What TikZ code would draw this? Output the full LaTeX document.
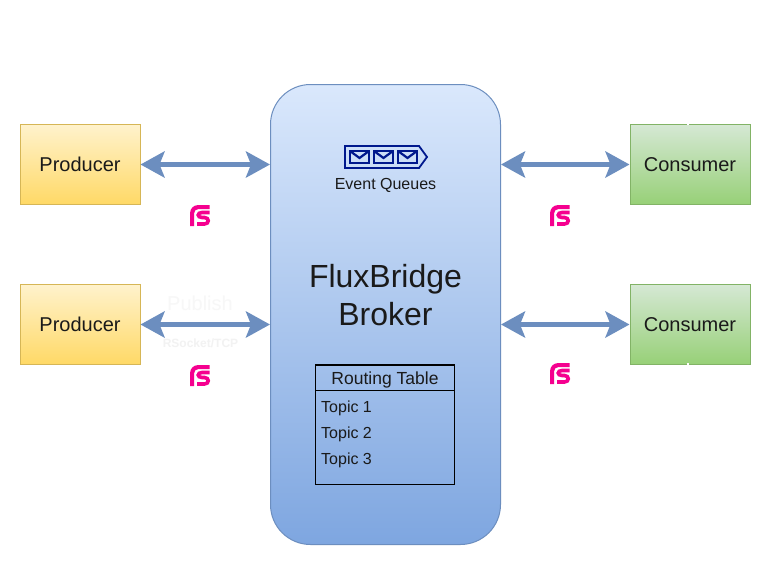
\documentclass[tikz,border=0pt]{standalone}
\usepackage{fontspec}
\setmainfont{Liberation Sans}
\usetikzlibrary{arrows.meta}
\definecolor{arrowblue}{HTML}{6C8EBF}
\definecolor{iconblue}{HTML}{00188D}
\definecolor{rspink}{HTML}{F5008F}
\definecolor{inkdark}{HTML}{1A1A1A}
\newcommand{\fsz}[1]{\fontsize{#1}{#1}\selectfont}
\tikzset{
  x=1pt,y=-1pt,
  box/.style={draw,line width=1pt,minimum width=120pt,minimum height=80pt,inner sep=0pt,text=inkdark,font=\fsz{20}},
  prod/.style={box,draw=prodedge,top color=prodtop,bottom color=prodbot},
  cons/.style={box,draw=consedge,top color=constop,bottom color=consbot},
  link/.style={draw=arrowblue,line width=5.5pt,{Stealth[length=24pt,width=26pt,inset=5pt]}-{Stealth[length=24pt,width=26pt,inset=5pt]}},
  lbl/.style={inner sep=0pt,text=inkdark},
  rsmark/.pic={
    \fill[rspink] (-9.5,10.5) -- (-9.5,-2) .. controls (-9.5,-7) and (-6,-10.5) .. (-1,-10.5) -- (10,-10.5) -- (10,-6.5) -- (-1,-6.5) .. controls (-3.5,-6.5) and (-5.5,-4.5) .. (-5.5,-2) -- (-5.5,10.5) -- cycle;
    \draw[rspink,line width=3.6pt] (10,-3) -- (2.5,-3) .. controls (-2.5,-3) and (-2.5,2) .. (2.5,2) -- (5,2) .. controls (10,2) and (10,8.5) .. (5,8.5) -- (-2.5,8.5);
  },
  envelope/.pic={
    \draw[iconblue,line width=2.2pt,line join=miter] (0,0) rectangle (19,12);
    \draw[iconblue,line width=2.2pt,line join=miter] (0,0) -- (9.5,7) -- (19,0);
  }
}
\definecolor{prodtop}{HTML}{FFF2CC}
\definecolor{prodbot}{HTML}{FFD966}
\definecolor{prodedge}{HTML}{D6B656}
\definecolor{constop}{HTML}{D5E8D4}
\definecolor{consbot}{HTML}{97D077}
\definecolor{consedge}{HTML}{82B366}
\definecolor{brokertop}{HTML}{DAE8FC}
\definecolor{brokerbot}{HTML}{7EA6E0}
\definecolor{brokeredge}{HTML}{6C8EBF}
\begin{document}
\begin{tikzpicture}
\useasboundingbox (0,0) rectangle (771,565);
\fill[white] (0,0) rectangle (771,565);

% Boxes
\node[prod] (p1) at (80,164.5) {Producer};
\node[prod] (p2) at (80,324.5) {Producer};
\node[cons] (c1) at (690,164.5) {Consumer};
\node[cons] (c2) at (690,324.5) {Consumer};
\node[draw=brokeredge,line width=1pt,rounded corners=40pt,top color=brokertop,bottom color=brokerbot,
      minimum width=230pt,minimum height=460pt,inner sep=0pt] (broker) at (385.5,314.5) {};

% small notches in the consumer outlines
\fill[white] (686.5,123) rectangle (689,125);
\fill[white] (686.5,363) rectangle (689,365);

% Links
\draw[link] (p1.east) -- (broker.west |- p1.east);
\draw[link] (p2.east) -- (broker.west |- p2.east);
\draw[link] (c1.west) -- (broker.east |- c1.west);
\draw[link] (c2.west) -- (broker.east |- c2.west);

% Faint labels
\node[inner sep=0pt,text=white!97!black,font=\fsz{20}] (pub) at (200,303) {Publish};
\node[inner sep=0pt,text=white!95!black,font=\bfseries\fsz{12}] (rst) at (200.5,343.5) {RSocket/TCP};

% RSocket marks
\pic at (199.5,215.5) {rsmark};
\pic at (199.5,375.5) {rsmark};
\pic at (559.5,215.5) {rsmark};
\pic at (559.5,373.5) {rsmark};

% Event queue icon
\draw[iconblue,line width=1.8pt,miter limit=10] (345,146) -- (419,146) -- (427,157) -- (419,168) -- (345,168) -- cycle;
\pic at (350,151) {envelope};
\pic at (374,151) {envelope};
\pic at (398,151) {envelope};
\node[lbl,font=\fsz{16}] (eq) at (385.5,185) {Event Queues};

% Broker title
\node[lbl,font=\fontsize{32}{38}\selectfont,align=center] (title) at (385.5,295) {FluxBridge\\Broker};

% Routing table
\node[draw=black,line width=1pt,minimum width=139pt,minimum height=119pt,inner sep=0pt] (table) at (385,424.5) {};
\node[draw=black,line width=1pt,minimum width=139pt,minimum height=26pt,inner sep=0pt] (thead) at (385,377.5) {};
\node[lbl,font=\fsz{17.5}] (ttitle) at (385,379.5) {Routing Table};
\node[lbl,anchor=west,font=\fsz{16}] (t1) at (321,408) {Topic 1};
\node[lbl,anchor=west,font=\fsz{16}] (t2) at (321,434) {Topic 2};
\node[lbl,anchor=west,font=\fsz{16}] (t3) at (321,460) {Topic 3};
\end{tikzpicture}
\end{document}
